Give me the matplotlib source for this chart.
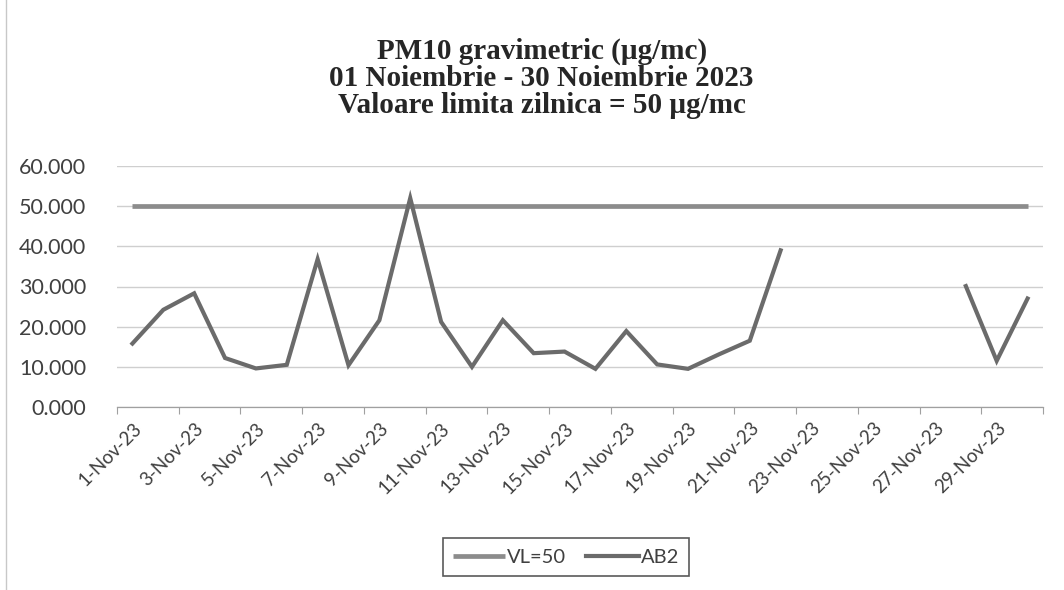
import numpy as np
import matplotlib.pyplot as plt
from matplotlib.ticker import FixedLocator, NullFormatter

# data (day of November 2023 -> ug/mc), gaps are NaN
days = np.arange(1, 31)
ab2 = [15.8, 24.2, 28.3, 12.2, 9.6, 10.5, 36.8, 10.4, 21.6, 52.0,
       21.2, 10.0, 21.6, 13.4, 13.8, 9.5, 18.9, 10.6, 9.5, 13.1,
       16.5, 39.0, np.nan, np.nan, np.nan, np.nan, np.nan, 30.1, 11.5, 27.0]
vl = [50.0] * 30
label_days = list(range(1, 30, 2))
labels = ['%d-Nov-23' % d for d in label_days]
title = 'PM10 gravimetric (\u00b5g/mc)\n01 Noiembrie - 30 Noiembrie 2023\nValoare limita zilnica = 50 \u00b5g/mc'

fig = plt.figure(figsize=(10.64, 5.90), dpi=100)
ax = fig.add_axes([117/1064, 1-407/590, (1043-117)/1064, (407-166)/590])

ax.plot(days, vl, color='#8c8c8c', lw=3.4, solid_capstyle='butt', label='VL=50', zorder=3)
ax.plot(days, ab2, color='#6b6b6b', lw=3.0, solid_joinstyle='miter', label='AB2', zorder=4)

ax.set_xlim(0.5, 30.5)
ax.set_ylim(0, 60)
ax.set_yticks(np.arange(0, 61, 10))
ax.set_yticklabels(['%.3f' % v for v in np.arange(0, 61, 10)])
ax.grid(axis='y', color='#cfcfcf', lw=1.0)
ax.set_axisbelow(True)

# tick marks at the slot boundaries, labels on every second day
ax.xaxis.set_major_locator(FixedLocator(np.arange(0.5, 31, 2)))
ax.xaxis.set_major_formatter(NullFormatter())
ax.xaxis.set_minor_locator(FixedLocator(label_days))
ax.set_xticklabels(labels, minor=True, rotation=45, ha='right', va='top',
                   rotation_mode='anchor')
ax.tick_params(axis='x', which='major', length=5, color='#a0a0a0', width=0.8)
ax.tick_params(axis='x', which='minor', length=0, pad=9, labelsize=13.5,
               labelcolor='#404040')
for t in ax.xaxis.get_minorticklabels():
    t.set_fontfamily('Lato')
ax.tick_params(axis='y', length=0, pad=22, labelsize=15.5, labelcolor='#404040')
for t in ax.get_yticklabels():
    t.set_fontfamily('Lato')

for s in ['top', 'right', 'left']:
    ax.spines[s].set_visible(False)
ax.spines['bottom'].set_color('#a0a0a0')
ax.spines['bottom'].set_linewidth(0.9)

fig.text(0.509, 1-38/590, title, ha='center', va='top', fontsize=21,
         fontweight='bold', family='Liberation Serif', color='#262626',
         linespacing=1.0)

leg = fig.legend(loc='center', bbox_to_anchor=(566/1064, 1-557/590), ncol=2,
                 frameon=True, fancybox=False, handlelength=2.6,
                 prop={'family': 'Lato', 'size': 14.5}, columnspacing=1.0,
                 handletextpad=0.1, borderpad=0.5)
leg.get_frame().set_edgecolor('#303030')
leg.get_frame().set_linewidth(1.2)
for t in leg.get_texts():
    t.set_color('#404040')

# faint border of the scanned chart on the left
fig.add_artist(plt.Line2D([6/1064, 6/1064], [0, 1], color='#c8c8c8', lw=1.0))

fig.savefig('out.png', dpi=100)
